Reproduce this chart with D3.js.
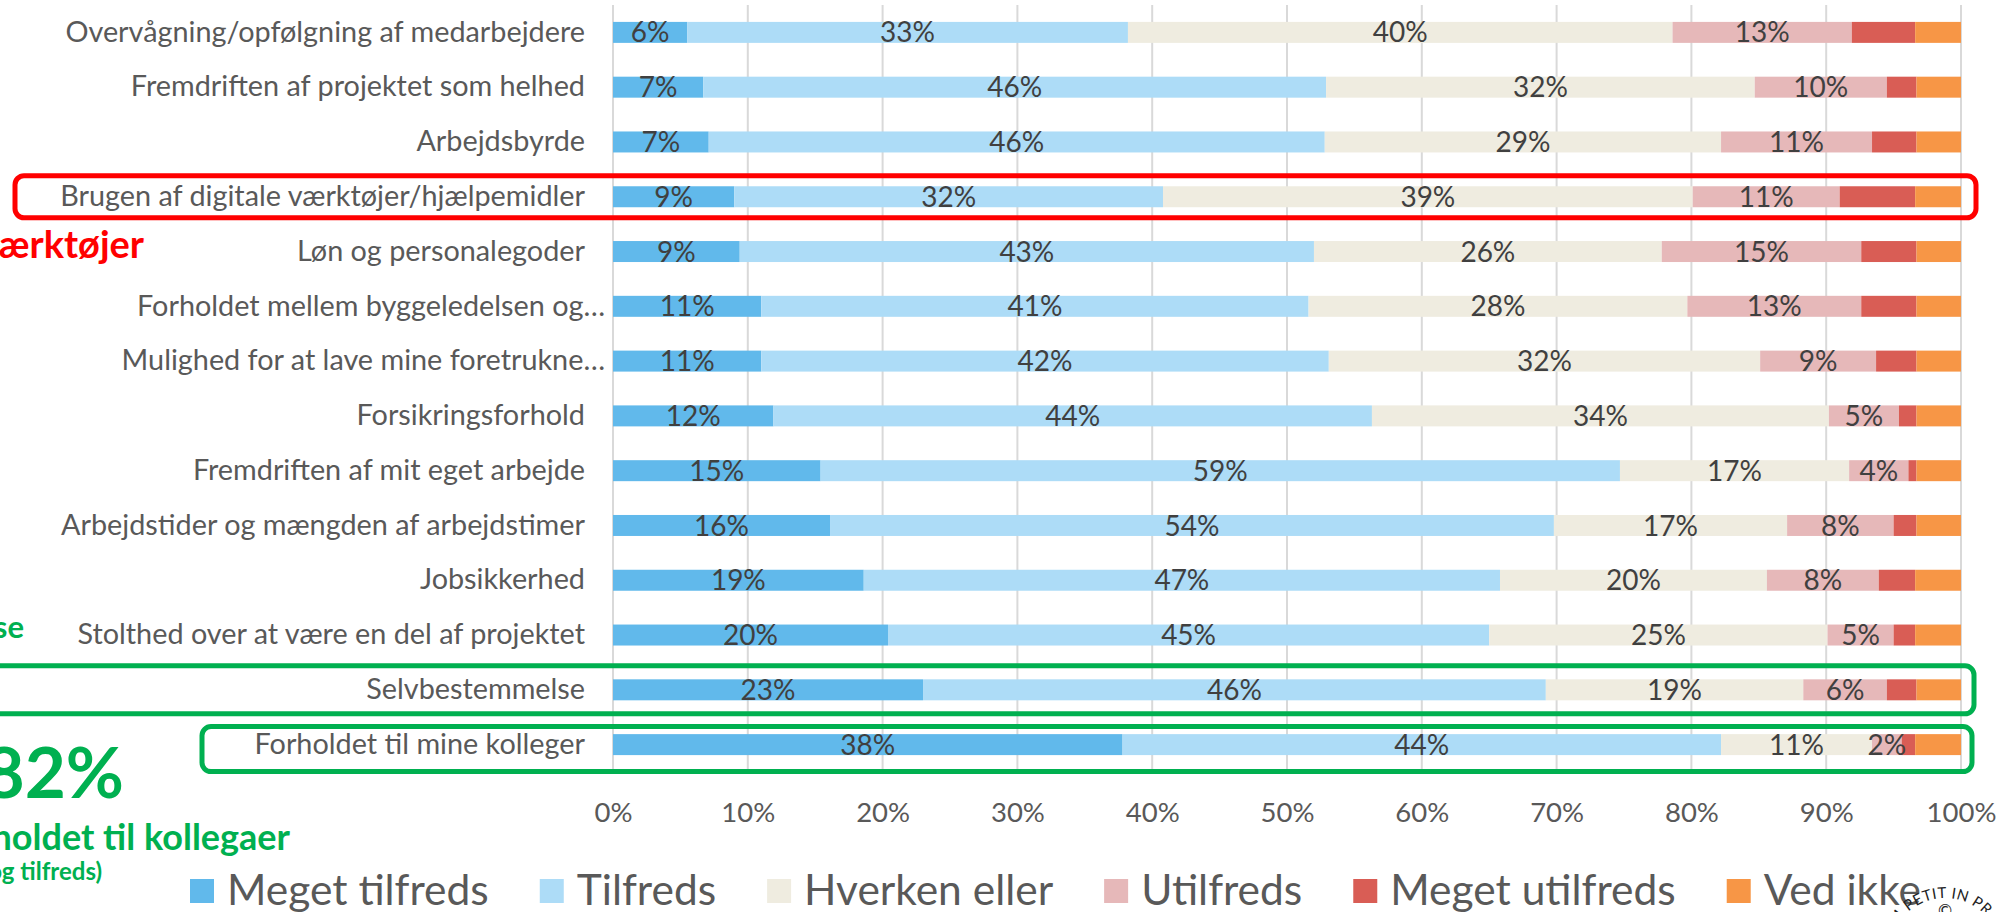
<!DOCTYPE html>
<html>
<head>
<meta charset="utf-8">
<script src="https://cdn.jsdelivr.net/npm/d3@7"></script>
<style>
  html, body { margin: 0; padding: 0; background: #ffffff; }
  svg { display: block; }
  text { font-family: Lato, "Open Sans", sans-serif; }
</style>
</head>
<body>
<svg id="chart" width="2015" height="912"></svg>
<script>
// Survey categories, top to bottom
const categories = [
  "Overvågning/opfølgning af medarbejdere",
  "Fremdriften af projektet som helhed",
  "Arbejdsbyrde",
  "Brugen af digitale værktøjer/hjælpemidler",
  "Løn og personalegoder",
  "Forholdet mellem byggeledelsen og…",
  "Mulighed for at lave mine foretrukne…",
  "Forsikringsforhold",
  "Fremdriften af mit eget arbejde",
  "Arbejdstider og mængden af arbejdstimer",
  "Jobsikkerhed",
  "Stolthed over at være en del af projektet",
  "Selvbestemmelse",
  "Forholdet til mine kolleger"
];

// Share of answers per category (%)
const megetTilfreds  = [5.5, 6.7, 7.1, 9.0, 9.4, 11.0, 11.0, 11.9, 15.4, 16.1, 18.6, 20.4, 23.0, 37.8];
const tilfreds       = [32.7, 46.2, 45.7, 31.8, 42.6, 40.6, 42.1, 44.4, 59.3, 53.7, 47.2, 44.6, 46.2, 44.4];
const hverkenEller   = [40.4, 31.8, 29.4, 39.3, 25.8, 28.1, 32.0, 33.9, 17.0, 17.3, 19.8, 25.1, 19.1, 11.2];
const utilfreds      = [13.3, 9.8, 11.2, 10.9, 14.8, 12.9, 8.6, 5.2, 4.4, 7.9, 8.3, 4.9, 6.2, 2.2];
const megetUtilfreds = [4.7, 2.2, 3.3, 5.6, 4.1, 4.1, 3.0, 1.3, 0.6, 1.7, 2.7, 1.6, 2.2, 1.0];
const vedIkke        = [3.4, 3.3, 3.3, 3.4, 3.3, 3.3, 3.3, 3.3, 3.3, 3.3, 3.4, 3.4, 3.3, 3.4];

const seriesNames = ["Meget tilfreds", "Tilfreds", "Hverken eller", "Utilfreds", "Meget utilfreds", "Ved ikke"];
const seriesColors = ["#61b9eb", "#addcf7", "#efece0", "#e6b8b9", "#d95d55", "#f79646"];
const labelledSeries = ["Meget tilfreds", "Tilfreds", "Hverken eller", "Utilfreds"];
const tickValues = [0, 10, 20, 30, 40, 50, 60, 70, 80, 90, 100];

const seriesValues = [megetTilfreds, tilfreds, hverkenEller, utilfreds, megetUtilfreds, vedIkke];
const table = categories.map((c, i) => {
  const row = { category: c };
  seriesNames.forEach((s, k) => { row[s] = seriesValues[k][i]; });
  return row;
});

const svg = d3.select("#chart");
svg.append("rect").attr("width", 2015).attr("height", 912).attr("fill", "#fff");

const x = d3.scaleLinear().domain([0, 100]).range([613, 1961]);
const y = d3.scaleBand().domain(categories).range([5, 772]).paddingInner(0.617).paddingOuter(0.3085);
const color = d3.scaleOrdinal().domain(seriesNames).range(seriesColors);

// Vertical gridlines
svg.append("g").selectAll("line").data(tickValues).join("line")
  .attr("x1", d => x(d)).attr("x2", d => x(d))
  .attr("y1", 5).attr("y2", 772)
  .attr("stroke", "#d9d9d9").attr("stroke-width", 2);

// Percentage axis
const xAxis = svg.append("g").attr("transform", "translate(0,802)")
  .call(d3.axisBottom(x).tickValues(tickValues).tickFormat(d => d + "%").tickSize(0).tickPadding(0));
xAxis.select(".domain").remove();
xAxis.selectAll("text").attr("font-size", 27.5).attr("fill", "#595959")
  .attr("font-family", "Lato, sans-serif").attr("dy", "0.72em");

// Category labels
const yAxis = svg.append("g").attr("transform", "translate(585,0)")
  .call(d3.axisLeft(y).tickSize(0).tickPadding(0));
yAxis.select(".domain").remove();
yAxis.selectAll("text").attr("font-size", 28.8).attr("fill", "#595959")
  .attr("font-family", "Lato, sans-serif")
  .attr("dx", d => d.endsWith("…") ? 20 : 0);

// Stacked bars
const stacked = d3.stack().keys(seriesNames)(table);
const layers = svg.append("g").selectAll("g").data(stacked).join("g")
  .attr("fill", d => color(d.key));
layers.selectAll("rect").data(d => d).join("rect")
  .attr("x", d => x(d[0]))
  .attr("width", d => x(d[1]) - x(d[0]))
  .attr("y", d => y(d.data.category))
  .attr("height", y.bandwidth());

// Value labels
const labelLayers = svg.append("g").selectAll("g")
  .data(stacked.filter(s => labelledSeries.includes(s.key))).join("g");
labelLayers.selectAll("text").data(d => d.map(v => ({ v, key: d.key }))).join("text")
  .attr("x", d => (x(d.v[0]) + x(d.v[1])) / 2)
  .attr("y", d => y(d.v.data.category) + y.bandwidth() / 2)
  .attr("dy", "0.36em")
  .attr("text-anchor", "middle")
  .attr("font-size", 28)
  .attr("fill", "#404040")
  .text(d => Math.round(d.v.data[d.key]) + "%");

// Highlight frames
const yc = c => y(c) + y.bandwidth() / 2;
function frame(x0, x1, cat, up, down, stroke) {
  svg.append("rect")
    .attr("x", x0).attr("y", yc(cat) - up)
    .attr("width", x1 - x0).attr("height", up + down)
    .attr("rx", 9).attr("ry", 9)
    .attr("fill", "none").attr("stroke", stroke).attr("stroke-width", 5);
}
frame(15, 1976, "Brugen af digitale værktøjer/hjælpemidler", 21, 21, "#ff0000");
frame(-20, 1974, "Selvbestemmelse", 24, 24, "#00b050");
frame(202, 1972, "Forholdet til mine kolleger", 18, 27, "#00b050");

// Side notes
function note(txt, xEnd, yBase, size, fill) {
  svg.append("text").attr("x", xEnd).attr("y", yBase)
    .attr("text-anchor", "end").attr("font-weight", 700)
    .attr("font-size", size).attr("fill", fill).text(txt);
}
note("værktøjer", 144, 258, 38, "#ff0000");
note("Selvbestemmelse", 24, 638, 31, "#00b050");
note("82%", 124, 798, 71, "#00b050");
note("Forholdet til kollegaer", 290, 850, 36, "#00b050");
note("(Meget tilfreds og tilfreds)", 102, 880, 24, "#00b050");

// Legend
const legend = svg.append("g");
let lx = 190;
seriesNames.forEach(name => {
  const g = legend.append("g").attr("transform", `translate(${lx},0)`);
  g.append("rect").attr("x", 0).attr("y", 879).attr("width", 24).attr("height", 24).attr("fill", color(name));
  const t = g.append("text").attr("x", 37).attr("y", 905)
    .attr("font-size", 42.5).attr("fill", "#595959").text(name);
  lx += 37 + t.node().getComputedTextLength() + 51;
});

// Stamp in the corner
const stamp = svg.append("g").attr("transform", "translate(1945,954)");
stamp.append("path").attr("id", "stampArc")
  .attr("d", d3.arc()({ innerRadius: 0, outerRadius: 56, startAngle: -Math.PI, endAngle: Math.PI }))
  .attr("fill", "none");
stamp.append("text").attr("font-size", 15).attr("letter-spacing", 0.5).attr("fill", "#222")
  .append("textPath").attr("href", "#stampArc").attr("startOffset", "50%")
  .attr("text-anchor", "middle")
  .text("M PETIT IN PRO");
stamp.append("text").attr("y", -37).attr("text-anchor", "middle")
  .attr("font-size", 17).attr("fill", "#222").text("©");
</script>
</body>
</html>
